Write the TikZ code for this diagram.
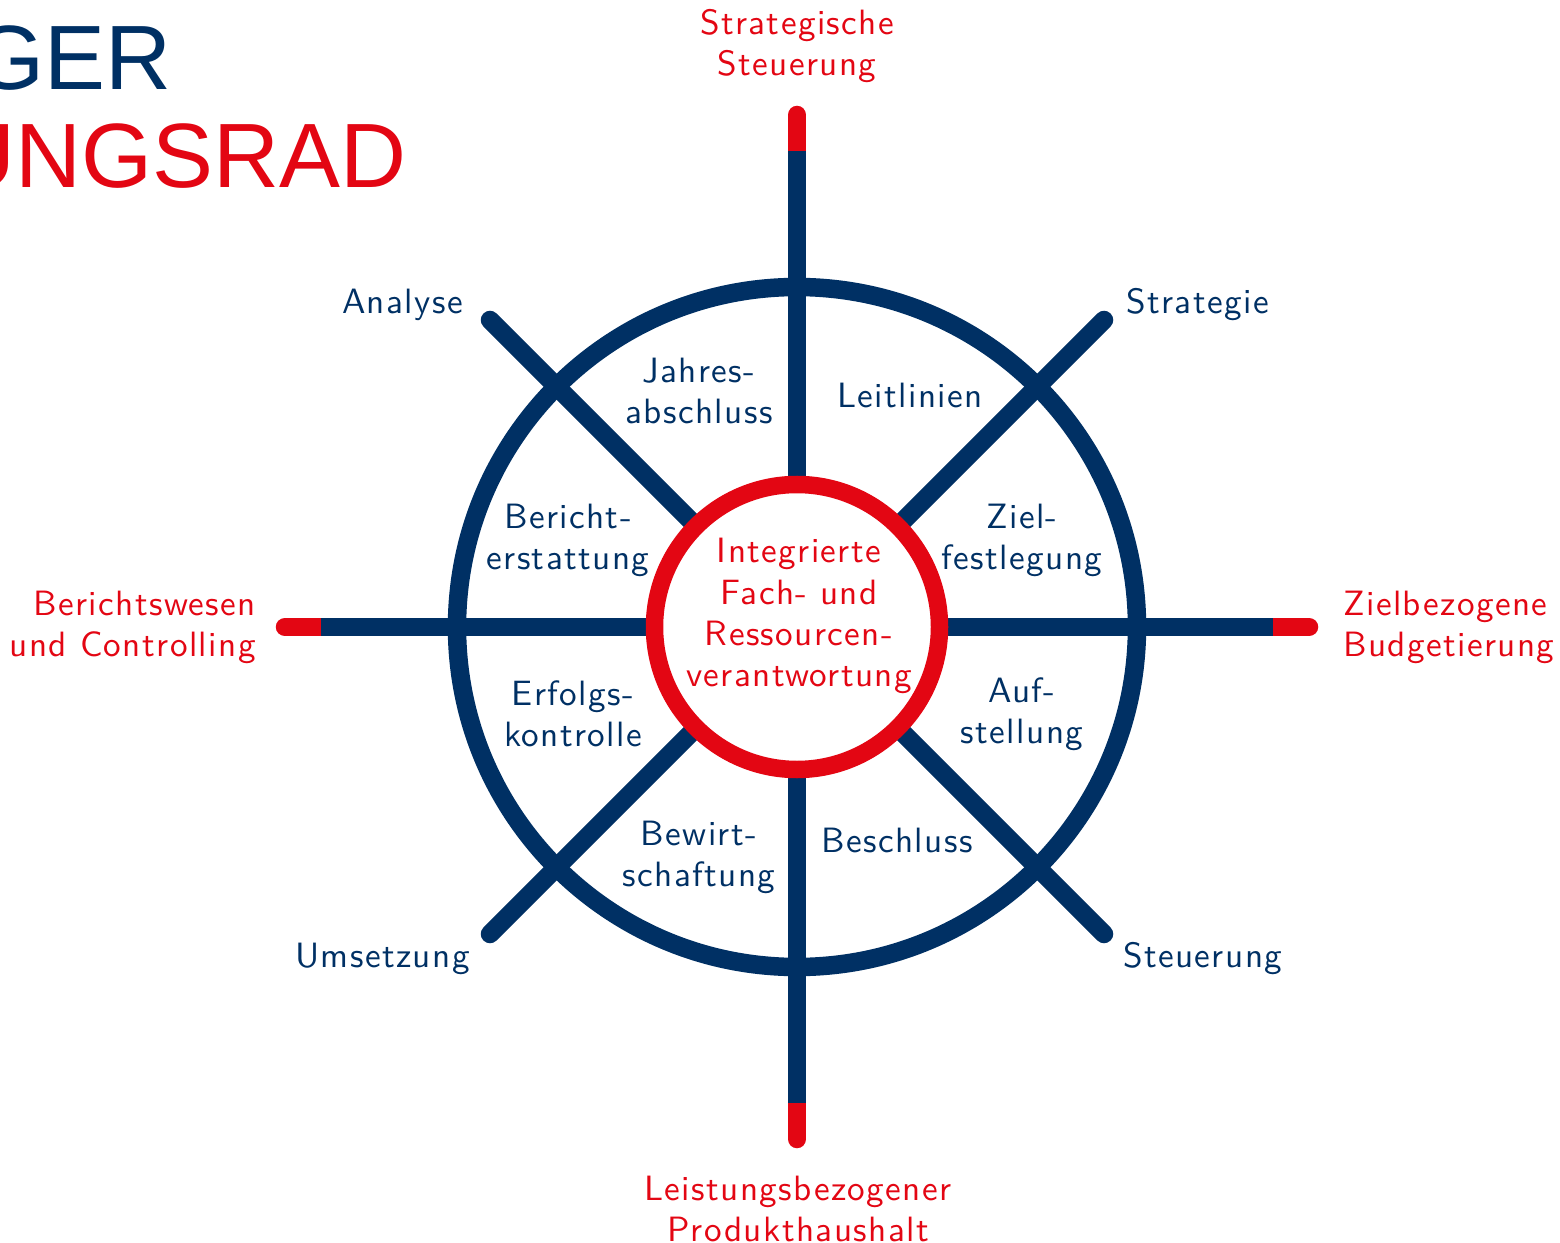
\documentclass[tikz,border=0pt]{standalone}
\usepackage{fontspec}
\newfontfamily\titlefont{Liberation Sans}
\newfontfamily\labelfont{lmsans10-regular.otf}[LetterSpace=4]
\usetikzlibrary{positioning}
\definecolor{wheelblue}{HTML}{003064}
\definecolor{wheelred}{HTML}{E30613}
\tikzstyle{spoke} = [line width=0.37cm, draw=wheelblue]
\tikzstyle{tip} = [line width=0.37cm, draw=wheelred, line cap=round]
\tikzstyle{lbl} = [text=wheelblue, align=center, inner sep=0pt, font=\labelfont\fontsize{20}{23.4}\selectfont]
\tikzstyle{goal} = [lbl, text=wheelred]
\tikzstyle{title} = [anchor=base east, inner sep=0pt, font=\titlefont\fontsize{52}{56}\selectfont]
\begin{document}
\begin{tikzpicture}[x=0.2mm,y=-0.2mm]
        \useasboundingbox (0,0) rectangle (1560,1243);
        \node (title1) [title, text=wheelblue] at (172,90) {GER};
        \node (title2) [title, text=wheelred] at (407,188) {UNGSRAD};

        \coordinate (hub) at (797,627);
        \draw [spoke] (hub) circle[radius=340];

        % spoke ends
        \coordinate (top) at (797,115);
        \coordinate (topred) at (797,151);
        \coordinate (bottom) at (797,1139);
        \coordinate (bottomred) at (797,1103);
        \coordinate (left) at (285,627);
        \coordinate (leftred) at (321,627);
        \coordinate (right) at (1309,627);
        \coordinate (rightred) at (1273,627);
        \coordinate (nw) at (490,320);
        \coordinate (ne) at (1104,320);
        \coordinate (sw) at (490,934);
        \coordinate (se) at (1104,934);

        \draw [tip] (top) -- (topred);
        \draw [tip] (bottom) -- (bottomred);
        \draw [tip] (left) -- (leftred);
        \draw [tip] (right) -- (rightred);
        \draw [spoke] (topred) -- (hub);
        \draw [spoke] (bottomred) -- (hub);
        \draw [spoke] (leftred) -- (hub);
        \draw [spoke] (rightred) -- (hub);
        \draw [spoke, line cap=round] (hub) -- (nw);
        \draw [spoke, line cap=round] (hub) -- (ne);
        \draw [spoke, line cap=round] (hub) -- (sw);
        \draw [spoke, line cap=round] (hub) -- (se);

        \node (centre) [circle, draw=wheelred, line width=0.35cm, fill=white, minimum size=5.7cm] at (hub) {};
        \node (centre text) [goal] at (799,616) {Integrierte\\Fach- und\\Ressourcen-\\verantwortung};

        % outer labels
        \node (strat) [goal] at (797,46) {Strategische\\Steuerung};
        \node (leist) [goal] at (798,1209) {Leistungsbezogener\\Produkthaushalt};
        \node (bericht) [goal, anchor=east, align=right] at (256,627) {Berichtswesen\\und Controlling};
        \node (budget) [goal, anchor=west, align=left] at (1343,627) {Zielbezogene\\Budgetierung};
        \node (analyse) [lbl, anchor=east] at (463,305) {Analyse};
        \node (strategie) [lbl, anchor=west] at (1126,305) {Strategie};
        \node (umsetzung) [lbl, anchor=east] at (470,959) {Umsetzung};
        \node (steuerung) [lbl, anchor=west] at (1123,959) {Steuerung};

        % sector labels
        \node (jahres) [lbl] at (699,391) {Jahres-\\abschluss};
        \node (leitlinien) [lbl] at (910,395) {Leitlinien};
        \node (erstattung) [lbl] at (568,540) {Bericht-\\erstattung};
        \node (ziel) [lbl] at (1022,540) {Ziel-\\festlegung};
        \node (erfolg) [lbl] at (573,714) {Erfolgs-\\kontrolle};
        \node (auf) [lbl] at (1022,714) {Auf-\\stellung};
        \node (bewirt) [lbl] at (699,857) {Bewirt-\\schaftung};
        \node (beschluss) [lbl] at (897,840) {Beschluss};
\end{tikzpicture}
\end{document}
